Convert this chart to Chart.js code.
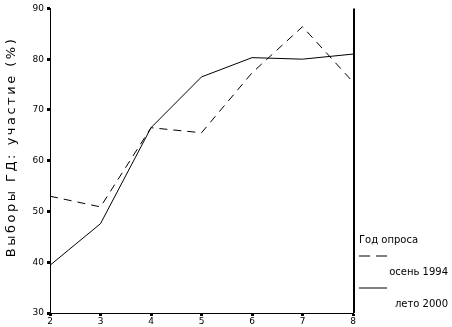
<!DOCTYPE html>
<html>
<head>
<meta charset="utf-8">
<script src="https://cdn.jsdelivr.net/npm/chart.js@4/dist/chart.umd.min.js"></script>
<style>
  html, body { margin: 0; padding: 0; background: #fff; }
  #wrap { width: 452px; height: 327px; }
</style>
</head>
<body>
<div id="wrap"><canvas id="myChart" width="452" height="327"></canvas></div>
<script>
// categories (x axis) and series
const xLabels = ["2", "3", "4", "5", "6", "7", "8"];
const autumn1994 = [53.0, 50.9, 66.5, 65.5, 77.3, 86.4, 75.5];
const summer2000 = [39.4, 47.6, 66.5, 76.5, 80.3, 80.0, 81.0];
const seriesNames = ["осень 1994", "лето 2000"];
const legendTitle = "Год опроса";
const yTitle = "Выборы ГД: участие (%)";

const tickFont = { family: "DejaVu Sans", size: 9 };

// thick right border, spaced-out y title and the legend on the right
const sidePlugin = {
  id: "side",
  afterDraw(chart) {
    const ctx = chart.ctx;
    const area = chart.chartArea;
    ctx.save();
    ctx.strokeStyle = "#000";
    ctx.lineWidth = 2;
    ctx.beginPath();
    ctx.moveTo(area.right + 1, area.top);
    ctx.lineTo(area.right + 1, area.bottom);
    ctx.stroke();

    // y title, letter spaced like the original
    ctx.save();
    ctx.translate(12, 147);
    ctx.rotate(-Math.PI / 2);
    ctx.font = "13px 'DejaVu Sans'";
    ctx.letterSpacing = "2.5px";
    ctx.fillStyle = "#000";
    ctx.textAlign = "center";
    ctx.textBaseline = "middle";
    ctx.fillText(yTitle, 0, 0);
    ctx.restore();

    const x0 = area.right + 6;
    ctx.fillStyle = "#000";
    ctx.font = "10px 'DejaVu Sans'";
    ctx.textBaseline = "middle";
    ctx.textAlign = "left";
    ctx.fillText(legendTitle, x0, 240);
    chart.data.datasets.forEach((ds, i) => {
      const y = 256 + i * 32;
      ctx.lineWidth = 1;
      ctx.setLineDash(ds.borderDash ? [11, 6] : []);
      ctx.beginPath();
      ctx.moveTo(x0, y);
      ctx.lineTo(x0 + 28, y);
      ctx.stroke();
      ctx.setLineDash([]);
      ctx.textAlign = "right";
      ctx.fillText(ds.label, 448, y + 16);
    });
    ctx.restore();
  }
};

const ctx = document.getElementById("myChart").getContext("2d");
const myChart = new Chart(ctx, {
  type: "line",
  data: {
    labels: xLabels,
    datasets: [
      {
        label: seriesNames[0],
        data: autumn1994,
        borderColor: "#000",
        borderWidth: 1,
        borderDash: [8, 6],
        pointRadius: 0,
        tension: 0,
        fill: false
      },
      {
        label: seriesNames[1],
        data: summer2000,
        borderColor: "#000",
        borderWidth: 1,
        pointRadius: 0,
        tension: 0,
        fill: false
      }
    ]
  },
  options: {
    responsive: false,
    animation: false,
    layout: { padding: { top: 6, right: 99, left: 0, bottom: 0 } },
    plugins: {
      legend: { display: false },
      tooltip: { enabled: false }
    },
    scales: {
      x: {
        offset: false,
        grid: { display: true, drawOnChartArea: false, tickLength: 3, tickWidth: 3, color: "#000" },
        border: { display: true, color: "#000", width: 1 },
        ticks: { color: "#000", font: tickFont, padding: 0, maxRotation: 0 },
        afterFit(scale) { scale.height = 14; }
      },
      y: {
        min: 30,
        max: 90,
        ticks: { stepSize: 10, color: "#000", font: tickFont, padding: 3 },
        grid: { display: true, drawOnChartArea: false, tickLength: 3, tickWidth: 3, color: "#000" },
        border: { display: true, color: "#000", width: 1 },
        afterFit(scale) { scale.width = 50; }
      }
    }
  },
  plugins: [sidePlugin]
});
</script>
</body>
</html>
